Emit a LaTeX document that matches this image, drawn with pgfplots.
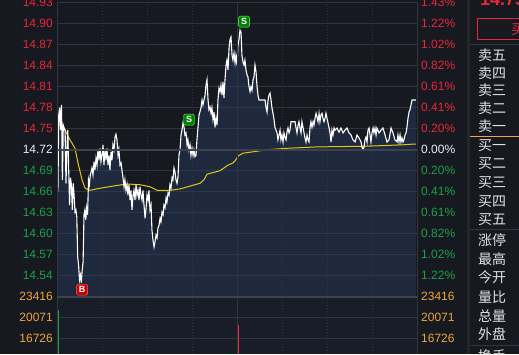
\documentclass[border=0pt]{standalone}
\usepackage{pgfplots}
\pgfplotsset{compat=1.18}
\usepackage{pgfplotstable}
\usepackage{fontspec}
\setmainfont{Liberation Sans}
\newfontfamily\cjk{Noto Sans CJK SC}

\definecolor{bgc}{RGB}{22,25,32}
\definecolor{volbg}{RGB}{24,29,40}
\definecolor{gridc}{RGB}{48,52,61}
\definecolor{gridstrong}{RGB}{62,66,75}
\definecolor{redc}{RGB}{232,40,56}
\definecolor{greenc}{RGB}{30,160,72}
\definecolor{orangec}{RGB}{236,166,66}
\definecolor{whitec}{RGB}{232,238,248}
\definecolor{yellowc}{RGB}{228,198,20}
\definecolor{areac}{RGB}{40,62,98}
\definecolor{paneltext}{RGB}{226,226,226}
\definecolor{sepc}{RGB}{50,54,62}

\newcommand{\cR}[1]{\textcolor{redc}{#1}}
\newcommand{\cG}[1]{\textcolor{greenc}{#1}}
\newcommand{\cW}[1]{\textcolor{whitec}{#1}}
\newcommand{\cO}[1]{\textcolor{orangec}{#1}}

\pgfplotstableread{
m p
0 14.791
0.6 14.660
1.2 14.770
1.8 14.780
2.4 14.748
3.0 14.784
3.6 14.677
4.2 14.755
4.8 14.751
5.4 14.748
6.0 14.672
6.6 14.720
7.2 14.748
7.8 14.691
8.4 14.641
9.0 14.680
9.6 14.670
10.2 14.634
10.8 14.672
11.4 14.655
12.0 14.631
12.6 14.634
13.2 14.624
13.8 14.567
14.4 14.555
15.0 14.534
15.6 14.541
16.2 14.530
16.8 14.548
17.4 14.560
18.0 14.627
18.6 14.634
19.2 14.620
19.8 14.637
20.4 14.627
21.0 14.677
21.6 14.670
22.2 14.684
22.7 14.688
23.3 14.694
24 14.684
24.7 14.703
25.3 14.691
26 14.708
26.7 14.698
27.3 14.720
28 14.705
28.7 14.722
29.3 14.703
30 14.712
30.7 14.727
31.3 14.698
32 14.720
32.7 14.705
33.3 14.722
34 14.698
34.7 14.712
35.3 14.691
36 14.717
36.7 14.705
37.3 14.727
38 14.720
38.7 14.738
39.3 14.742
40 14.734
40.7 14.712
41.3 14.720
42 14.698
42.7 14.701
43.3 14.691
44 14.680
44.7 14.667
45.3 14.677
46 14.662
46.7 14.670
47.3 14.655
48 14.670
48.7 14.648
49.3 14.662
50 14.634
50.7 14.655
51.3 14.662
52 14.648
52.7 14.670
53.3 14.655
54 14.662
54.7 14.648
55.3 14.667
56 14.655
56.7 14.648
57.3 14.662
58 14.641
58.7 14.622
59.3 14.634
60 14.655
60.7 14.648
61.3 14.662
62 14.634
62.7 14.641
63.3 14.605
64 14.591
64.7 14.581
65.3 14.588
66 14.598
66.7 14.594
67.3 14.608
68 14.612
68.7 14.622
69.3 14.617
70 14.631
70.7 14.627
71.3 14.641
72 14.637
72.7 14.651
73.3 14.645
74 14.658
74.7 14.655
75.3 14.670
76 14.665
76.7 14.680
77.3 14.677
78 14.694
78.7 14.688
79.3 14.677
80 14.672
80.7 14.682
81.3 14.712
82 14.720
82.7 14.741
83.3 14.748
84 14.758
84.7 14.752
85.3 14.741
86 14.744
86.7 14.727
87.3 14.734
88 14.720
88.7 14.727
89.3 14.712
90 14.722
90.7 14.712
91.3 14.720
92 14.710
92.7 14.712
93.3 14.734
94 14.752
94.7 14.770
95.3 14.774
96 14.780
96.7 14.791
97.3 14.784
98 14.791
98.7 14.798
99.3 14.812
100 14.820
100.7 14.791
101.3 14.777
102 14.781
102.7 14.772
103.3 14.780
104 14.763
104.7 14.774
105.3 14.752
106 14.765
106.7 14.755
107.3 14.791
108 14.808
108.7 14.803
109.3 14.812
110 14.798
110.7 14.817
111.3 14.794
112 14.820
112.7 14.841
113.3 14.848
114 14.834
114.7 14.865
115.3 14.877
116 14.881
116.7 14.855
117.3 14.848
118 14.858
118.7 14.844
119.3 14.855
120 14.841
120.7 14.870
121.3 14.877
122 14.891
122.7 14.888
123.3 14.855
124 14.845
124.7 14.841
125.3 14.848
126 14.834
126.7 14.827
127.3 14.824
128 14.810
128.7 14.803
129.3 14.810
130 14.805
130.7 14.820
131.3 14.824
132 14.841
132.7 14.831
133.3 14.812
134 14.798
134.7 14.791
136.7 14.791
138.7 14.791
139.3 14.781
140 14.774
140.7 14.791
141.3 14.798
142 14.801
142.7 14.791
143.3 14.780
144 14.772
144.7 14.763
145.3 14.752
146 14.748
146.7 14.744
147.3 14.734
148 14.741
148.7 14.748
149.3 14.734
150 14.741
150.7 14.731
151.3 14.744
152 14.738
152.7 14.734
153.3 14.745
154 14.751
154.7 14.744
155.3 14.748
156 14.760
157.3 14.760
158.7 14.760
159.3 14.752
160 14.744
160.7 14.755
161.3 14.760
162 14.751
162.7 14.744
163.3 14.760
164 14.752
164.7 14.744
165.3 14.737
166 14.731
166.7 14.741
167.3 14.734
168 14.731
168.7 14.752
169.3 14.760
170 14.752
170.7 14.760
171.3 14.755
172 14.765
172.7 14.772
173.3 14.767
174 14.760
174.7 14.772
175.3 14.760
176 14.770
176.7 14.772
177.3 14.765
178 14.760
178.7 14.765
179.3 14.772
180 14.765
180.7 14.758
181.3 14.752
182 14.744
182.7 14.731
183.3 14.748
184 14.741
184.7 14.751
185.3 14.748
186.7 14.751
188 14.745
189.3 14.751
190.7 14.744
192 14.748
193.3 14.751
194.7 14.744
196 14.741
197.3 14.734
198.7 14.731
200 14.741
201.3 14.737
202.7 14.731
203.3 14.724
204 14.720
204.7 14.724
205.3 14.734
206 14.738
206.7 14.731
207.3 14.748
208 14.751
208.7 14.741
209.3 14.731
210 14.744
210.7 14.751
211.3 14.744
212 14.751
212.7 14.741
213.3 14.751
214.7 14.744
216 14.748
217.3 14.751
218.7 14.741
220 14.731
221.3 14.734
222.7 14.751
224 14.744
225.3 14.734
226.7 14.731
227.3 14.741
228 14.731
228.7 14.741
229.3 14.731
230 14.737
230.7 14.731
231.3 14.734
232 14.741
232.7 14.744
233.3 14.752
234 14.765
234.7 14.774
235.3 14.777
236 14.784
236.7 14.791
238 14.791
239.3 14.791
}\pricedata

\pgfplotstableread{
m p
0 14.760
2 14.755
5.3 14.748
8.7 14.734
12 14.722
14 14.701
16.7 14.677
18.7 14.665
22 14.662
28.7 14.665
37.3 14.668
46.7 14.671
55.3 14.670
62 14.667
66.7 14.662
75.3 14.662
82 14.664
88.7 14.668
95.3 14.672
98 14.677
100 14.685
108.7 14.690
114 14.698
117.3 14.701
118.7 14.704
120.7 14.711
124 14.715
130.7 14.717
140 14.720
153.3 14.722
173.3 14.724
206.7 14.725
230.7 14.727
237.3 14.728
239.3 14.728
}\avgdata

\begin{document}
\begin{tikzpicture}[x=1pt,y=1pt]
\path[use as bounding box] (0,0) rectangle (519,354);
\fill[bgc] (0,0) rectangle (519,354);
\begin{scope}
\clip (0,0) rectangle (519,354);
\fill[volbg] (57,0) rectangle (417,57.3);

% ---------- price pane ----------
\begin{axis}[
  at={(57pt,57.3pt)}, anchor=south west, scale only axis,
  width=360pt, height=294pt,
  xmin=0, xmax=240, ymin=14.51, ymax=14.93,
  axis line style={draw=none}, major tick length=0pt,
  xtick={30,60,90,150,180,210}, xticklabels={},
  xmajorgrids, ymajorgrids,
  major x grid style={draw=gridc, dash pattern=on 1pt off 2pt},
  major y grid style={draw=gridc, line width=1pt},
  scaled y ticks=false,
  ytick={14.54,14.57,14.60,14.63,14.66,14.69,14.72,14.75,14.78,14.81,14.84,14.87,14.90,14.93},
  yticklabels={\cG{14.54},\cG{14.57},\cG{14.60},\cG{14.63},\cG{14.66},\cG{14.69},\cW{14.72},\cR{14.75},\cR{14.78},\cR{14.81},\cR{14.84},\cR{14.87},\cR{14.90},\cR{14.93}},
  yticklabel style={font=\fontsize{12}{12}\selectfont, anchor=east, inner sep=0pt, xshift=-4pt},
]
\addplot[draw=none, fill=areac, fill opacity=0.45] table[x=m,y=p]{\pricedata} -- (axis cs:239.3,14.51) -- (axis cs:0,14.51) -- cycle;
\addplot[yellowc, line width=1pt] table[x=m,y=p]{\avgdata};
\addplot[white, line width=1.1pt] table[x=m,y=p]{\pricedata};
\addplot[draw=none, mark=none, nodes near coords={B},
  every node near coord/.append style={anchor=center, fill=red!80!black, draw=red!60!white, rounded corners=1.5pt, text=white, font=\bfseries\fontsize{9}{9}\selectfont, inner sep=0pt, minimum size=11pt}]
  coordinates {(16.7,14.520)};
\addplot[draw=none, mark=none, nodes near coords={S},
  every node near coord/.append style={anchor=center, fill=green!50!black, draw=green!60!white, rounded corners=1.5pt, text=white, font=\bfseries\fontsize{9}{9}\selectfont, inner sep=0pt, minimum size=11pt}]
  coordinates {(88,14.763) (124.7,14.903)};
\end{axis}

\begin{axis}[
  at={(57pt,57.3pt)}, anchor=south west, scale only axis,
  width=360pt, height=294pt,
  xmin=0, xmax=240, ymin=14.51, ymax=14.93,
  axis x line=none, axis y line*=right,
  axis line style={draw=none}, major tick length=0pt,
  scaled y ticks=false,
  ytick={14.54,14.57,14.60,14.63,14.66,14.69,14.72,14.75,14.78,14.81,14.84,14.87,14.90,14.93},
  yticklabels={\cG{1.22\%},\cG{1.02\%},\cG{0.82\%},\cG{0.61\%},\cG{0.41\%},\cG{0.20\%},\cW{0.00\%},\cR{0.20\%},\cR{0.41\%},\cR{0.61\%},\cR{0.82\%},\cR{1.02\%},\cR{1.22\%},\cR{1.43\%}},
  yticklabel style={font=\fontsize{12}{12}\selectfont, anchor=west, inner sep=0pt, xshift=4pt},
]
\end{axis}

% ---------- volume pane ----------
\begin{axis}[
  at={(57pt,0pt)}, anchor=south west, scale only axis,
  width=360pt, height=57.3pt,
  xmin=0, xmax=240, ymin=14289, ymax=23416,
  axis line style={draw=none}, major tick length=0pt,
  xtick={30,60,90,150,180,210}, xticklabels={},
  xmajorgrids, ymajorgrids,
  major x grid style={draw=gridc, dash pattern=on 1pt off 2pt},
  major y grid style={draw=gridc, line width=1pt},
  scaled y ticks=false,
  ytick={16726,20071,23416},
  yticklabels={\cO{16726},\cO{20071},\cO{23416}},
  yticklabel style={font=\fontsize{12}{12}\selectfont, anchor=east, inner sep=0pt, xshift=-4pt},
]
\addplot[ycomb, draw=greenc, line width=1pt] coordinates {(1,21377)};
\addplot[ycomb, draw=redc, line width=1pt] coordinates {(120.8,18876)};
\end{axis}

\begin{axis}[
  at={(57pt,0pt)}, anchor=south west, scale only axis,
  width=360pt, height=57.3pt,
  xmin=0, xmax=240, ymin=14289, ymax=23416,
  axis x line=none, axis y line*=right,
  axis line style={draw=none}, major tick length=0pt,
  scaled y ticks=false,
  ytick={16726,20071,23416},
  yticklabels={\cO{16726},\cO{20071},\cO{23416}},
  yticklabel style={font=\fontsize{12}{12}\selectfont, anchor=west, inner sep=0pt, xshift=4pt},
]
\end{axis}

% frame lines
\draw[gridc, line width=1pt] (57.5,0) -- (57.5,351.3);
\draw[gridc, line width=1pt] (417,0) -- (417,351.3);
\draw[gridc, line width=1pt] (237,0) -- (237,351.3);
\draw[gridstrong, line width=1.6pt] (57,204.3) -- (417,204.3);
\draw[gridstrong, line width=1.8pt] (57,57.3) -- (417,57.3);

% ---------- side panel ----------
\fill[black!85] (466.5,0) rectangle (470,354);
\node[anchor=base west, inner sep=0pt, text=redc, font=\bfseries\fontsize{18}{18}\selectfont] at (480,348.5) {14.75};
\draw[redc, line width=0.8pt] (477.5,336) rectangle (530,315);
\node[anchor=west, inner sep=0pt, text=redc, font=\cjk\fontsize{14}{14}\selectfont] at (511,325) {买入};
\draw[sepc, line width=1pt] (470,309) -- (519,309);
\draw[orangec, line width=1pt] (470,218) -- (519,218);
\draw[sepc, line width=1pt] (470,124.7) -- (519,124.7);
\draw[sepc, line width=1pt] (470,9) -- (519,9);
\begin{scope}[every node/.style={anchor=west, inner sep=0pt, text=paneltext, font=\cjk\fontsize{14}{14}\selectfont}]
\node at (478,299) {卖五};
\node at (478,280.7) {卖四};
\node at (478,263.3) {卖三};
\node at (478,245.7) {卖二};
\node at (478,227.3) {卖一};
\node at (478,208) {买一};
\node at (478,190) {买二};
\node at (478,171.3) {买三};
\node at (478,152.3) {买四};
\node at (478,134) {买五};
\node at (478,114) {涨停};
\node at (478,94.7) {最高};
\node at (478,76.7) {今开};
\node at (478,57.3) {量比};
\node at (478,38) {总量};
\node at (478,20) {外盘};
\node at (478,-2) {换手};
\end{scope}
\end{scope}
\end{tikzpicture}
\end{document}
